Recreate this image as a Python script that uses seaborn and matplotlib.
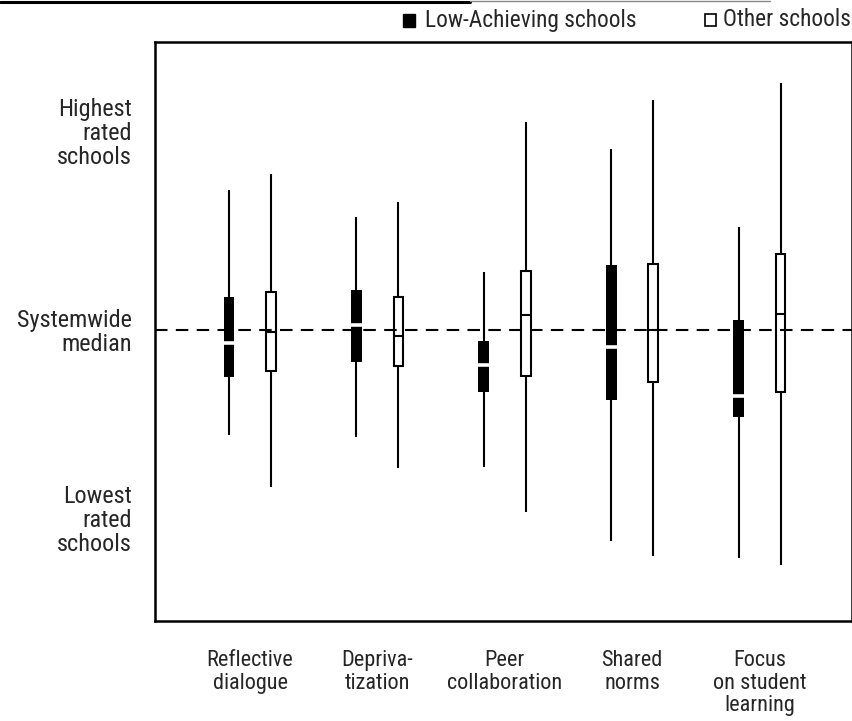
import numpy as np
import pandas as pd
import matplotlib
matplotlib.use("Agg")
import matplotlib.pyplot as plt
from matplotlib import font_manager as fm
from matplotlib.patches import Rectangle
from matplotlib.lines import Line2D
import seaborn as sns

# ---------------- data (arbitrary rating scale 0-100) ----------------
categories = ["Reflective\ndialogue", "Depriva-\ntization", "Peer\ncollaboration",
              "Shared\nnorms", "Focus\non student\nlearning"]
groups = ["Low-Achieving schools", "Other schools"]

low_min = [32.2, 31.7, 26.6, 13.8, 10.9]
low_q1 = [42.1, 44.8, 39.5, 38.1, 35.3]
low_med = [48.1, 51.2, 44.3, 47.4, 38.8]
low_q3 = [56.0, 57.1, 48.3, 61.4, 51.9]
low_max = [74.5, 69.7, 60.3, 81.6, 68.1]

oth_min = [23.1, 26.4, 18.8, 11.2, 9.7]
oth_q1 = [43.1, 44.1, 42.4, 41.2, 39.5]
oth_med = [50.0, 49.3, 52.8, 50.3, 53.1]
oth_q3 = [56.9, 55.9, 60.5, 61.6, 63.4]
oth_max = [77.2, 72.4, 86.2, 90.0, 92.9]

systemwide_median = 50.3
ytick_pos = [84.7, 50.3, 17.8]
ytick_labels = ["Highest\nrated\nschools", "Systemwide\nmedian", "Lowest\nrated\nschools"]

# five points per box: min, q1, median, q3, max -> exact quartiles with linear interpolation
rows = []
for g, stats in [(groups[0], (low_min, low_q1, low_med, low_q3, low_max)),
                 (groups[1], (oth_min, oth_q1, oth_med, oth_q3, oth_max))]:
    for i, cat in enumerate(categories):
        for s in stats:
            rows.append({"category": cat, "group": g, "value": s[i]})
df = pd.DataFrame(rows)

# ---------------- style ----------------
sns.set_style("white")

# look for an installed condensed / narrow sans face (reference uses a condensed grotesque)
cond_family, cond_stretch = None, "normal"
for pref in ["Liberation Sans Narrow", "Arial Narrow", "Roboto Condensed",
             "Open Sans Condensed", "Noto Sans Condensed", "DejaVu Sans Condensed"]:
    for f in fm.fontManager.ttflist:
        if f.name == pref and f.style == "normal" and f.weight in (400, "normal", "regular"):
            cond_family = f.name
            break
    if cond_family:
        break
if cond_family is None:
    for f in fm.fontManager.ttflist:
        st = str(f.stretch)
        if (st in ("condensed", "semi-condensed") or st in ("75", "87")) and f.style == "normal" \
                and f.weight in (400, "normal", "regular") and "Mono" not in f.name \
                and "Serif" not in f.name and "CJK" not in f.name:
            cond_family, cond_stretch = f.name, f.stretch
            break

if cond_family is not None:
    plt.rcParams["font.family"] = [cond_family, "Liberation Sans", "DejaVu Sans"]
    plt.rcParams["font.stretch"] = cond_stretch
    FS_X, FS_Y, FS_L = 16.0, 17.5, 16.8
else:
    plt.rcParams["font.family"] = ["Liberation Sans", "DejaVu Sans"]
    FS_X, FS_Y, FS_L = 15.0, 15.5, 15.0

fig = plt.figure(figsize=(8.53, 7.21), dpi=100)
ax = fig.add_axes([155 / 853, 1 - 621 / 721, 697 / 853, (621 - 42) / 721])

palette = {groups[0]: "black", groups[1]: "white"}
common = dict(x="category", y="value", hue="group", order=categories, hue_order=groups,
              palette=palette, dodge=True, width=0.66, whis=np.inf,
              showfliers=False, showcaps=False, linecolor="black", saturation=1,
              legend=False, ax=ax,
              whiskerprops=dict(linewidth=1.5, color="black"))

# low-achieving: solid black box, median shown as a white cut across the box
sns.boxplot(data=df[df["group"] == groups[0]], gap=0.74,
            boxprops=dict(linewidth=0),
            medianprops=dict(color="white", linewidth=2.6, solid_capstyle="butt", zorder=4),
            **common)
# other schools: open box with black median
sns.boxplot(data=df[df["group"] == groups[1]], gap=0.77,
            boxprops=dict(linewidth=1.5),
            medianprops=dict(color="black", linewidth=1.5), **common)

ax.axhline(systemwide_median, color="black", lw=1.5, dashes=(6, 4), zorder=5)

ax.set_xlim(-0.746, 4.726)
ax.set_ylim(0, 100)
ax.set_xlabel("")
ax.set_ylabel("")
ax.set_yticks(ytick_pos, ytick_labels)
ax.tick_params(axis="y", length=0, pad=17, labelsize=FS_Y)
ax.tick_params(axis="x", length=0, pad=21, labelsize=FS_X)
for lbl in ax.get_yticklabels():
    lbl.set_linespacing(1.05)
    lbl.set_multialignment("right")
for lbl in ax.get_xticklabels():
    lbl.set_linespacing(1.1)
    lbl.set_verticalalignment("top")

for sp in ax.spines.values():
    sp.set_visible(True)
    sp.set_color("black")
    sp.set_linewidth(1.8)

# ---------------- legend (top, manual) ----------------
def fx(px):
    return px / 853

def fy(py):
    return 1 - py / 721

fig.patches.append(Rectangle((fx(403), fy(27)), 12 / 853, 13 / 721, transform=fig.transFigure,
                             facecolor="black", edgecolor="black", lw=1))
fig.text(fx(425), fy(20), groups[0], fontsize=FS_L, va="center", ha="left")

t_other = fig.text(fx(851), fy(20), groups[1], fontsize=FS_L, va="center", ha="right")
fig.canvas.draw()
x0_px = t_other.get_window_extent().x0
fig.patches.append(Rectangle(((x0_px - 18) / 853, fy(26)), 11 / 853, 12 / 721,
                             transform=fig.transFigure,
                             facecolor="white", edgecolor="black", lw=1.2))

# header rule from the page
fig.lines.append(Line2D([0, fx(470)], [fy(1.5), fy(1.5)], transform=fig.transFigure,
                        color="black", lw=2.2))
fig.lines.append(Line2D([fx(470), fx(770)], [fy(1), fy(1)], transform=fig.transFigure,
                        color="#888888", lw=1))

fig.savefig("out.png", dpi=100)
